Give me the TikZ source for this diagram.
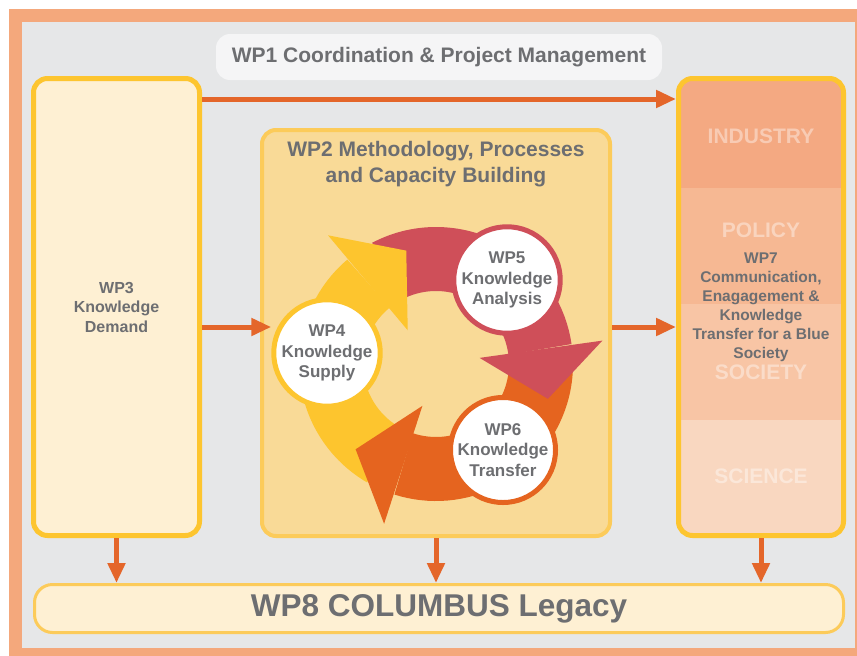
\documentclass[tikz,border=0pt]{standalone}
\usepackage{fontspec}
\setmainfont{Liberation Sans}
\usepackage{xcolor}
\usepackage{tikz}
\usetikzlibrary{arrows.meta}

\definecolor{frame}{HTML}{F4A87C}
\definecolor{backgr}{HTML}{E6E7E8}
\definecolor{wpgray}{HTML}{6D6E71}
\definecolor{cream}{HTML}{FEF0D3}
\definecolor{gold}{HTML}{FDC52F}
\definecolor{wptwo}{HTML}{F9DA97}
\definecolor{wptwoline}{HTML}{FCCB5A}
\definecolor{flowcol}{HTML}{E4662A}
\definecolor{ringyellow}{HTML}{FDC52E}
\definecolor{ringred}{HTML}{CF4F59}
\definecolor{ringorange}{HTML}{E5641F}
\definecolor{industry}{HTML}{F4A982}
\definecolor{policy}{HTML}{F6B893}
\definecolor{society}{HTML}{F8C5A5}
\definecolor{science}{HTML}{F9D7C0}

\begin{document}
\begin{tikzpicture}[x=1pt, y=-1pt,
    flow/.style={draw=flowcol, line width=5pt, -{Triangle[length=20pt,width=17pt]}},
    wpbox/.style={draw=gold, line width=5pt, fill=cream, rounded corners=14pt,
      align=center, text=wpgray, font=\bfseries\fontsize{16}{19.5}\selectfont},
    wpcircle/.style={circle, draw=#1, line width=5pt, fill=white, minimum size=101pt,
      inner sep=0pt, align=center, text=wpgray, font=\bfseries\fontsize{17}{20.5}\selectfont},
    ring/.style={draw=#1, line width=64pt},
    sector/.style={text=white, text opacity=0.4, font=\bfseries\fontsize{21}{25}\selectfont},
    title/.style={text=wpgray, align=center, font=\bfseries\fontsize{21}{26}\selectfont}]
  \useasboundingbox (0,0) rectangle (857,656);
  \fill[frame] (9,9) rectangle (870,670);
  \fill[backgr] (22,22) rectangle (855,648);

  \node[title, fill=white!60!backgr, rounded corners=14pt, minimum width=446pt,
    minimum height=46pt] (wp1) at (439,57) {WP1 Coordination \& Project Management};

  \node[wpbox, minimum width=166pt, minimum height=457pt] (wp3) at (116.5,307)
    {WP3\\Knowledge\\Demand};
  \node[wpbox, draw=wptwoline, line width=4pt, fill=wptwo, minimum width=348pt,
    minimum height=406pt] (wp2) at (436,333) {};
  \node[title] (wp2title) at (436,164) {WP2 Methodology, Processes\\and Capacity Building};

  \begin{scope}
    \clip[rounded corners=14pt] (678.5,78.5) rectangle (843.5,535.5);
    \fill[industry] (676,76) rectangle (846,188);
    \fill[policy] (676,188) rectangle (846,304);
    \fill[society] (676,304) rectangle (846,420);
    \fill[science] (676,420) rectangle (846,538);
  \end{scope}
  \node[sector] (industry) at (761,136) {INDUSTRY};
  \node[sector] (policy) at (761,230) {POLICY};
  \node[sector] (society) at (761,372) {SOCIETY};
  \node[sector] (science) at (761,476) {SCIENCE};
  \node[wpbox, fill=none, font=\bfseries\fontsize{15.5}{19}\selectfont,
    minimum width=165pt, minimum height=457pt] (wp7) at (761,307)
    {WP7\\Communication,\\Enagagement \&\\Knowledge\\Transfer for a Blue\\Society};

  \node[wpbox, draw=wptwoline, line width=3pt, rounded corners=18pt, minimum width=809pt,
    minimum height=48pt, font=\bfseries\fontsize{31.5}{36}\selectfont] (wp8) at (439,608.5)
    {WP8 COLUMBUS Legacy};

  \coordinate (hub) at (436,364);
  \foreach \s/\e/\c in {120/230/ringyellow, 242/352/ringred, 362/468/ringorange}
    \draw[ring=\c, shift={(hub)}] (\s:105) arc[start angle=\s, end angle=\e, radius=105];
  \foreach \a/\c in {230/ringyellow, 352/ringred, 108/ringorange}
    \fill[\c, shift={(hub)}] (\a:44) -- (\a:168) -- (\a+25.3:117.2) -- cycle;

  \node[wpcircle=ringyellow] (wp4) at (327,353) {WP4\\Knowledge\\Supply};
  \node[wpcircle=ringred] (wp5) at (507,280) {WP5\\Knowledge\\Analysis};
  \node[wpcircle=ringorange] (wp6) at (503,450) {WP6\\Knowledge\\Transfer};

  \coordinate (toprow) at (0,99);
  \coordinate (midrow) at (0,327);
  \draw[flow] (wp3.east |- toprow) -- (wp7.west |- toprow);
  \draw[flow] (wp3.east |- midrow) -- (wp4.west |- midrow);
  \draw[flow] (wp2.east |- midrow) -- (wp7.west |- midrow);
  \draw[flow] (wp3.south) -- (wp3.south |- wp8.north);
  \draw[flow] (wp2.south) -- (wp2.south |- wp8.north);
  \draw[flow] (wp7.south) -- (wp7.south |- wp8.north);
\end{tikzpicture}
\end{document}
